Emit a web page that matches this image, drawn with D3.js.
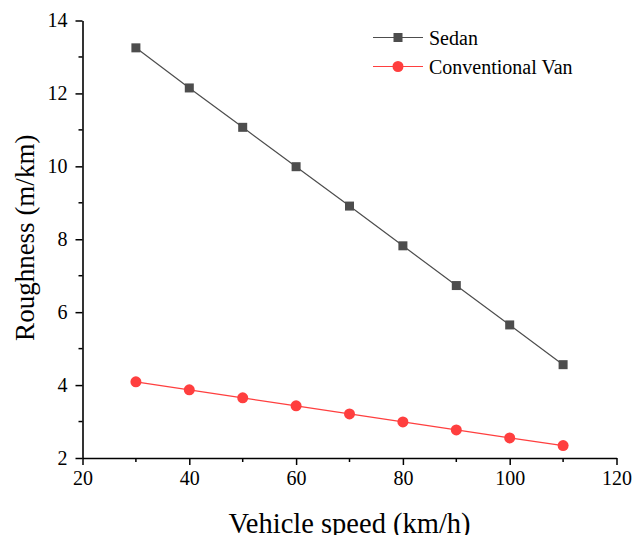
<!DOCTYPE html>
<html>
<head>
<meta charset="utf-8">
<script src="https://cdn.jsdelivr.net/npm/d3@7"></script>
<style>
  html, body { margin: 0; padding: 0; background: #fff; }
  svg { display: block; }
  svg text { font-family: "Liberation Serif", "Times New Roman", serif !important; fill: #000; }
</style>
</head>
<body>
<svg id="chart" width="633" height="535"></svg>
<script>
// Vehicle speed (km/h)
const speeds = [30, 40, 50, 60, 70, 80, 90, 100, 110];
// Roughness (m/km)
const sedan = [13.25, 12.15, 11.07, 9.99, 8.91, 7.82, 6.73, 5.65, 4.56];
const van   = [4.09, 3.87, 3.65, 3.43, 3.21, 2.99, 2.77, 2.55, 2.34];
const seriesNames = ["Sedan", "Conventional Van"];
const xTicks = [20, 40, 60, 80, 100, 120];
const yTicks = [2, 4, 6, 8, 10, 12, 14];

const serif = "'Liberation Serif', 'Times New Roman', serif";
const svg = d3.select("#chart");
const plotLeft = 82.5, plotRight = 616.5, plotTop = 20.5, plotBottom = 458;

const x = d3.scaleLinear().domain([20, 120]).range([plotLeft, plotRight]);
const y = d3.scaleLinear().domain([2, 14]).range([plotBottom, plotTop]);

// minor ticks at half intervals
const xMinor = d3.range(30, 120, 20);
const yMinor = d3.range(3, 14, 2);

const axisG = svg.append("g");

// bottom axis
const xAxis = axisG.append("g")
  .attr("transform", `translate(0,${plotBottom})`)
  .call(d3.axisBottom(x).tickValues(xTicks).tickSize(7).tickPadding(6).tickSizeOuter(0));
xAxis.append("g").selectAll("line").data(xMinor).join("line")
  .attr("x1", d => x(d)).attr("x2", d => x(d)).attr("y1", 0).attr("y2", 4)
  .attr("stroke", "#000").attr("stroke-width", 1.5);

// left axis
const yAxis = axisG.append("g")
  .attr("transform", `translate(${plotLeft},0)`)
  .call(d3.axisLeft(y).tickValues(yTicks).tickSize(7).tickPadding(8).tickSizeOuter(0));
yAxis.append("g").selectAll("line").data(yMinor).join("line")
  .attr("x1", 0).attr("x2", -4).attr("y1", d => y(d)).attr("y2", d => y(d))
  .attr("stroke", "#000").attr("stroke-width", 1.5);

axisG.selectAll("g").attr("font-family", null);
axisG.selectAll(".domain").attr("stroke", "#000").attr("stroke-width", 1.6);
axisG.selectAll(".tick line").attr("stroke", "#000").attr("stroke-width", 1.5);
axisG.selectAll(".tick text")
  .style("font-family", serif)
  .style("font-size", "20px").attr("fill", "#000");

// axis titles
svg.append("text")
  .attr("x", (plotLeft + plotRight) / 2).attr("y", 533)
  .attr("text-anchor", "middle").style("font-family", serif).style("font-size", "28.5px")
  .text("Vehicle speed (km/h)");
svg.append("text")
  .attr("transform", `translate(34,${(plotTop + plotBottom) / 2 - 1.5}) rotate(-90)`)
  .attr("text-anchor", "middle").style("font-family", serif).style("font-size", "27px")
  .text("Roughness (m/km)");

const line = d3.line().x((d, i) => x(speeds[i])).y(d => y(d));

const sedanColor = "#4d4d4d", vanColor = "#ff3f3f";

// Sedan series
svg.append("path").datum(sedan).attr("d", line)
  .attr("fill", "none").attr("stroke", sedanColor).attr("stroke-width", 1.2);
svg.append("g").selectAll("rect").data(sedan).join("rect")
  .attr("x", (d, i) => x(speeds[i]) - 4.5).attr("y", d => y(d) - 4.5)
  .attr("width", 9).attr("height", 9).attr("fill", sedanColor);

// Conventional Van series
svg.append("path").datum(van).attr("d", line)
  .attr("fill", "none").attr("stroke", vanColor).attr("stroke-width", 1.2);
svg.append("g").selectAll("circle").data(van).join("circle")
  .attr("cx", (d, i) => x(speeds[i])).attr("cy", d => y(d))
  .attr("r", 5.5).attr("fill", vanColor);

// legend
const legend = svg.append("g");
const legendRows = [
  { name: seriesNames[0], color: sedanColor, shape: "square", y: 37.5 },
  { name: seriesNames[1], color: vanColor, shape: "circle", y: 66.5 }
];
legendRows.forEach(r => {
  legend.append("line").attr("x1", 373).attr("x2", 423).attr("y1", r.y).attr("y2", r.y)
    .attr("stroke", r.color).attr("stroke-width", 1.2);
  if (r.shape === "square") {
    legend.append("rect").attr("x", 398 - 4.5).attr("y", r.y - 4.5)
      .attr("width", 9).attr("height", 9).attr("fill", r.color);
  } else {
    legend.append("circle").attr("cx", 398).attr("cy", r.y).attr("r", 5.5).attr("fill", r.color);
  }
  legend.append("text").attr("x", 429).attr("y", r.y + 7)
    .style("font-family", serif).style("font-size", "20px").text(r.name);
});
</script>
</body>
</html>
